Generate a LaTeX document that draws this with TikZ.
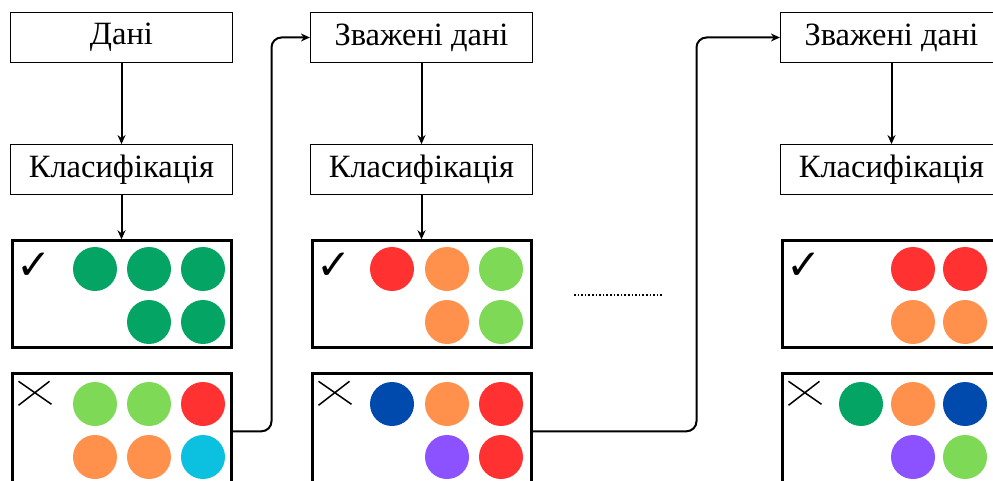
\documentclass[tikz,border=0pt]{standalone}
\usepackage{fontspec}
\setmainfont{Liberation Serif}
\newfontfamily\symfont{DejaVu Sans}
\usetikzlibrary{positioning, arrows.meta, calc}
\definecolor{dkgreen}{RGB}{4,164,100}
\definecolor{ltgreen}{RGB}{126,217,87}
\definecolor{ballred}{RGB}{255,49,49}
\definecolor{ballorange}{RGB}{255,145,77}
\definecolor{ballcyan}{RGB}{12,192,223}
\definecolor{ballblue}{RGB}{0,74,173}
\definecolor{ballpurple}{RGB}{140,82,255}
\tikzset {
    >={Stealth[length=9pt,width=8pt]},
    txtbox/.style={draw, line width=1.2pt, minimum width=222pt, minimum height=50pt,
        inner sep=0pt, font=\fontsize{32.5}{36}\selectfont},
    resbox/.style={draw, line width=3pt, minimum width=219pt, minimum height=107pt},
    badbox/.style={resbox, minimum height=115pt},
    flow/.style={->, line width=2pt},
    loopback/.style={->, line width=2pt, rounded corners=10pt},
    okmark/.style={font=\symfont\fontsize{42}{42}\selectfont, inner sep=0pt},
    xmark/.style={line width=1.5pt}
}

\begin{document}
\begin{tikzpicture}[x=1pt, y=-1pt]
    \useasboundingbox (0,0) rectangle (993,481);
    \clip (0,0) rectangle (993,481);

    \node[txtbox] (data1) at (121.5,37.5) {Дані};
    \node[txtbox, below=81pt of data1] (cls1) {Класифікація};
    \node[resbox, below=44pt of cls1] (good1) {};
    \node[badbox, below=23pt of good1] (bad1) {};

    \node[txtbox] (data2) at (421.5,37.5) {Зважені дані};
    \node[txtbox, below=81pt of data2] (cls2) {Класифікація};
    \node[resbox, below=44pt of cls2] (good2) {};
    \node[badbox, below=23pt of good2] (bad2) {};

    \node[txtbox] (data3) at (891.5,37.5) {Зважені дані};
    \node[txtbox, below=81pt of data3] (cls3) {Класифікація};
    \node[resbox, below=44pt of cls3] (good3) {};
    \node[badbox, below=23pt of good3] (bad3) {};

    \foreach \b in {good1,good2,good3}
        \node[okmark] (\b-ok) at ($(\b.north west)+(24,27)$) {✓};
    \foreach \b in {bad1,bad2,bad3}
        \draw[xmark] ($(\b.north west)+(8,9)$) -- ++(33,23)
                     ($(\b.north west)+(8,33)$) -- ++(31,-24);

    % balls
    \foreach \cx/\cy/\cc in {95/269/dkgreen, 149/269/dkgreen, 203/269/dkgreen,
            149/322/dkgreen, 203/322/dkgreen,
            95/404/ltgreen, 149/404/ltgreen, 203/404/ballred,
            95/457/ballorange, 149/457/ballorange, 203/457/ballcyan,
            392/269/ballred, 447/269/ballorange, 501/269/ltgreen,
            447/322/ballorange, 501/322/ltgreen,
            392/404/ballblue, 447/404/ballorange, 501/404/ballred,
            447/457/ballpurple, 501/457/ballred,
            913/269/ballred, 965/269/ballred,
            913/322/ballorange, 965/322/ballorange,
            861/404/dkgreen, 913/404/ballorange, 965/404/ballblue,
            913/457/ballpurple, 965/457/ltgreen}
        \fill[\cc] (\cx,\cy) circle (22pt);

    \draw[flow] (data1) -- (cls1);
    \draw[flow] (cls1) -- (good1);
    \draw[flow] (data2) -- (cls2);
    \draw[flow] (cls2) -- (good2);
    \draw[flow] (data3) -- (cls3);

    \draw[loopback] (bad1.east) -- ++(39,0) |- (data2.west);
    \draw[loopback] (bad2.east) -- ++(164,0) |- (data3.west);

    \draw[line width=1.6pt, dotted] (574,295) -- (662,295);
\end{tikzpicture}
\end{document}
